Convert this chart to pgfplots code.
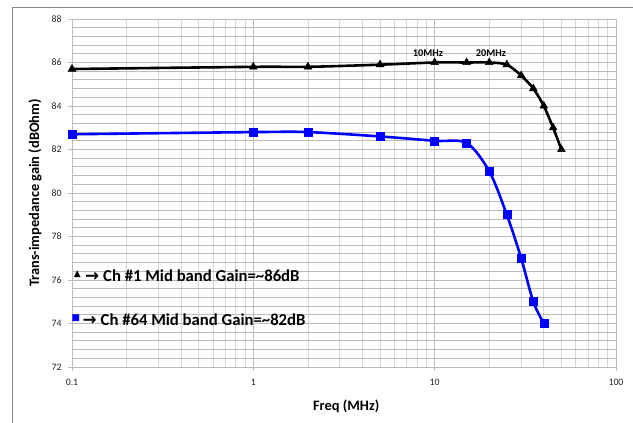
\documentclass[border=0pt]{standalone}
\usepackage{fontspec}
\setmainfont{Carlito}
\newfontfamily\symfont{DejaVu Sans}
\usepackage{pgfplots}
\pgfplotsset{compat=1.18}

\definecolor{chblue}{RGB}{0,0,255}
\definecolor{gridgray}{RGB}{188,188,188}
\definecolor{gridlight}{RGB}{214,214,214}
\definecolor{framegray}{RGB}{134,134,134}
\definecolor{ticktext}{RGB}{35,35,35}

\begin{document}
\begin{tikzpicture}
\useasboundingbox (0pt,0pt) rectangle (633pt,423pt);
% outer chart frame (only top and left edges show)
\draw[framegray, line width=1pt] (12.5pt,0pt) -- (12.5pt,415.5pt) -- (633pt,415.5pt);

\begin{axis}[
    at={(72pt,56pt)}, anchor=south west,
    scale only axis, width=544pt, height=348pt,
    xmode=log, xmin=0.1, xmax=100,
    ymin=72, ymax=88,
    xtick={0.1,1,10,100}, xticklabels={0.1,1,10,100},
    ytick={72,74,...,88},
    minor y tick num=4,
    grid=both,
    major grid style={gridgray, line width=0.8pt},
    minor y grid style={gridgray, line width=0.8pt},
    minor x grid style={gridlight, line width=0.8pt},
    axis line style={gridgray, line width=0.8pt},
    tick style={gridgray, line width=0.8pt},
    tick align=outside, major tick length=4pt, minor tick length=0pt,
    xtick pos=bottom, ytick pos=left,
    /pgf/number format/assume math mode=true,
    ticklabel style={font=\fontsize{9.8}{10}\selectfont, text=ticktext},
    xticklabel style={yshift=-5pt},
    yticklabel style={xshift=-3pt},
    xlabel={\textbf{Freq (MHz)}},
    ylabel={\textbf{Trans-impedance gain (dBOhm)}},
    label style={font=\fontsize{14.4}{15}\selectfont},
    xlabel style={at={(axis description cs:0.504,-0.112)}, anchor=center},
    ylabel style={at={(axis description cs:-0.068,0.5)}, anchor=center},
]
% Ch #1
\addplot[black, line width=2.6pt, smooth, mark=triangle*, mark size=4.5pt,
         mark options={fill=black, draw=black, line width=0.5pt}]
coordinates {
    (0.1,85.7) (1,85.8) (2,85.8) (5,85.9) (10,86.0) (15,86.0) (20,86.0)
    (25,85.9) (30,85.4) (35,84.8) (40,84.0) (45,83.0) (50,82.0)
};
% Ch #64
\addplot[chblue, line width=2.6pt, smooth, mark=square*, mark size=4pt,
         mark options={fill=chblue, draw=chblue, line width=0.5pt}]
coordinates {
    (0.1,82.7) (1,82.8) (2,82.8) (5,82.6) (10,82.4) (15,82.3) (20,81.0)
    (25,79.0) (30,77.0) (35,75.0) (40,74.0)
};
\end{axis}

% annotations
\node[font=\fontsize{10.3}{11}\selectfont\bfseries] at (428pt,370.3pt) {10MHz};
\node[font=\fontsize{10.3}{11}\selectfont\bfseries] at (491pt,370.3pt) {20MHz};

% text legend
\node[inner sep=0pt, font=\symfont\fontsize{9}{9}\selectfont] at (77.3pt,148.5pt) {▲};
\node[anchor=base west, inner sep=0pt, font=\fontsize{16.7}{18}\selectfont\bfseries]
    at (85pt,141.3pt) {{\symfont →}\hspace{4pt}Ch \#1 Mid band Gain=\textasciitilde86dB};
\node[inner sep=0pt, font=\symfont\fontsize{9}{9}\selectfont, text=chblue] at (76pt,104.7pt) {■};
\node[anchor=base west, inner sep=0pt, font=\fontsize{16.7}{18}\selectfont\bfseries]
    at (82.5pt,97pt) {{\symfont →}\hspace{4pt}Ch \#64 Mid band Gain=\textasciitilde82dB};
\end{tikzpicture}
\end{document}
